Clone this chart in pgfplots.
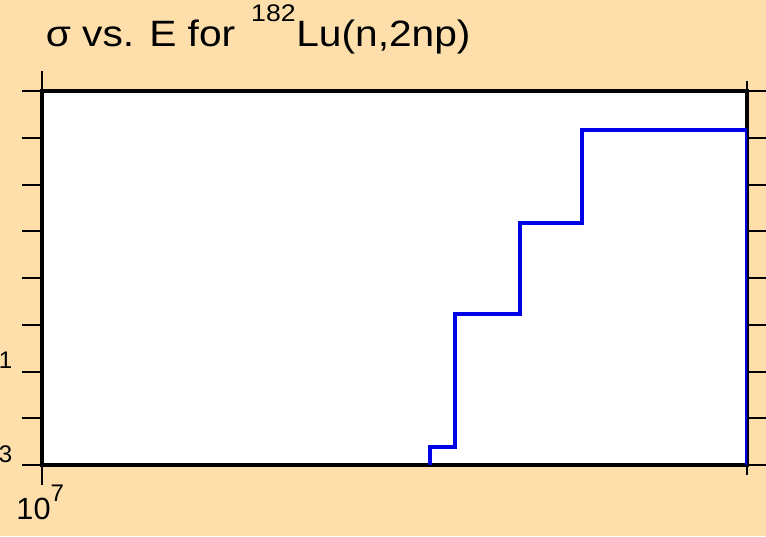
\documentclass[border=0pt]{standalone}
\usepackage{fontspec}
\setmainfont{Liberation Sans}
\newfontfamily\titlefont[FakeStretch=1.11]{Liberation Sans}
\usepackage{pgfplots}
\pgfplotsset{compat=1.18}
\definecolor{peach}{HTML}{FEDFAC}
\definecolor{stepblue}{HTML}{0000E6}
% 10^n as drawn on the axes: large digits, large raised exponent
\newcommand{\tenpow}[1]{\fontsize{23}{23}\selectfont 10\raisebox{13.5pt}{\fontsize{18}{18}\selectfont #1}}

\begin{document}
\begin{tikzpicture}[x=0.75pt,y=0.75pt]
\clip (0,0) rectangle (766,536);
\fill[peach] (0,0) rectangle (766,536);
\node[anchor=base west,inner sep=0pt,font=\titlefont\fontsize{27.5}{33}\selectfont] at (45.5,489)
  {σ vs. E for\hspace{12pt}\raisebox{19pt}{\fontsize{18}{18}\selectfont 182}\hspace{0.5pt}Lu(n,2np)};
\begin{axis}[
  at={(31.5pt,53.25pt)},anchor=south west,scale only axis,
  width=528.75pt,height=280.5pt,
  xmode=log,ymode=log,
  xmin=1e7,xmax=2e7,ymin=1e-3,ymax=1e5,
  axis background/.style={fill=white},
  axis line style={line width=3pt},
  tick align=outside,
  major tick length=15pt,minor tick length=7.5pt,
  every tick/.style={black,line width=1.5pt},
  xtick={1e7},xticklabels={\tenpow{7}},
  minor xtick={2e7},
  ytick={1e-3,1e-2,1e-1,1,1e1,1e2,1e3,1e4,1e5},
  yticklabels={\tenpow{-3},,\tenpow{-1},,,,,,},
  yminorticks=false,
  xticklabel style={anchor=base,inner sep=0pt,yshift=-26.25pt,xshift=-1.5pt},
  yticklabel style={anchor=base east,inner sep=0pt,xshift=-7.5pt,yshift=-11.25pt},
]
\addplot[const plot,stepblue,line width=3.2pt,line join=miter,no marks] coordinates {
  (14636000,0.001) (14636000,0.00243) (15000000,1.70) (16000000,150)
  (17000000,14700) (20000000,14700) (20000000,0.001)
};
\end{axis}
\end{tikzpicture}
\end{document}
